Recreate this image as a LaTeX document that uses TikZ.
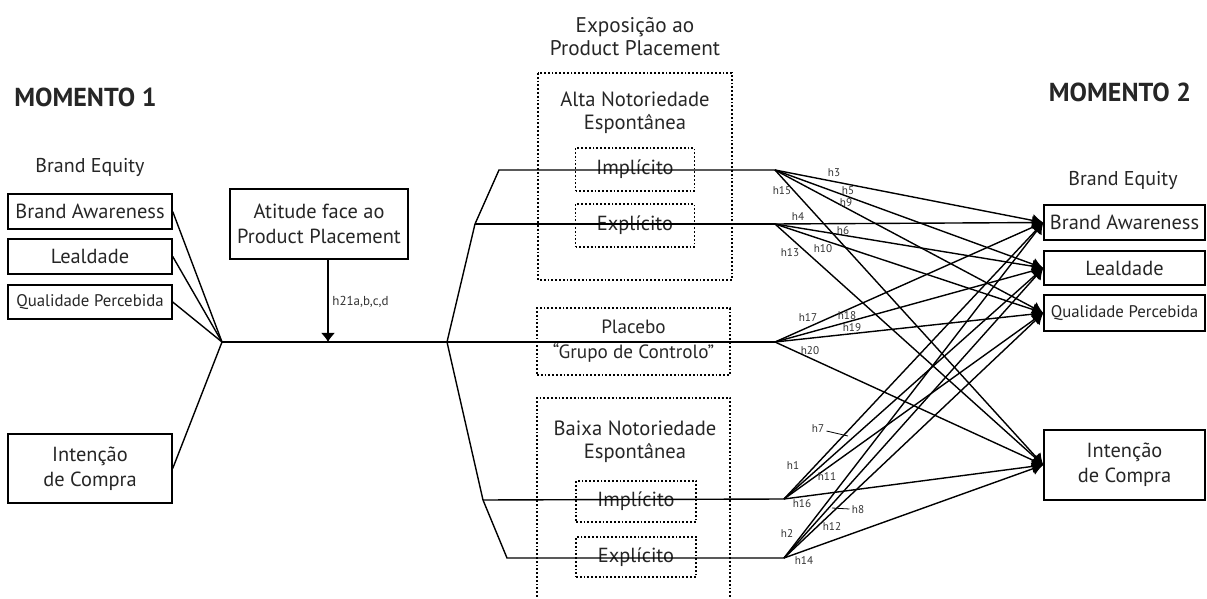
\documentclass[tikz,border=0pt]{standalone}
\usepackage{fontspec}
\setmainfont{PT Sans}
\usetikzlibrary{arrows.meta}
\tikzstyle{bx}=[draw=black,line width=0.7pt,text=black!85,align=center,inner sep=0pt,font=\fontsize{10.2}{12.5}\selectfont]
\tikzstyle{dbx}=[draw=black,densely dotted,line width=0.9pt,text=black!85,align=center,inner sep=0pt,font=\fontsize{10.2}{12.5}\selectfont]
\tikzstyle{tx}=[text=black!85,align=center,inner sep=0pt,font=\fontsize{10.3}{11.5}\selectfont]
\tikzstyle{hl}=[text=black!80,inner sep=0pt,font=\fontsize{5.6}{6}\selectfont]
\tikzstyle{ln}=[line width=0.7pt]
\tikzstyle{hyp}=[line width=0.7pt,-{Latex[length=5.5pt,width=6.5pt]}]

\begin{document}
\begin{tikzpicture}[x=0.5pt,y=-0.5pt]
\useasboundingbox (0,0) rectangle (1207,599);

\node[tx,anchor=west,font=\fontsize{13}{15}\bfseries] (m1) at (14,97) {MOMENTO 1};
\node[tx,font=\fontsize{13}{15}\bfseries] (m2) at (1120,92) {MOMENTO 2};
\node[tx,font=\fontsize{10}{11}\selectfont] (lbe) at (90,167) {Brand Equity};
\node[tx,font=\fontsize{10}{11}\selectfont] (rbe) at (1123,180) {Brand Equity};

\node[bx,minimum width=82pt,minimum height=17.5pt] (lba) at (90,211.5) {Brand Awareness};
\node[bx,minimum width=82pt,minimum height=17.5pt] (lle) at (90,256.5) {Lealdade};
\node[bx,minimum width=82pt,minimum height=17pt,font=\fontsize{8.4}{10}\selectfont] (lqp) at (90,302) {Qualidade Percebida};
\node[bx,minimum width=82pt,minimum height=34.5pt] (lic) at (90,468.5) {Intenção\\de Compra};

\node[bx,minimum width=80.5pt,minimum height=17.5pt] (rba) at (1124.5,222.5) {Brand Awareness};
\node[bx,minimum width=80.5pt,minimum height=17pt] (rle) at (1124.5,268) {Lealdade};
\node[bx,minimum width=80.5pt,minimum height=18pt,font=\fontsize{8.4}{10}\selectfont] (rqp) at (1124.5,313) {Qualidade Percebida};
\node[bx,minimum width=80.5pt,minimum height=35pt] (ric) at (1124.5,465) {Intenção\\de Compra};

\node[bx,minimum width=89pt,minimum height=35pt] (att) at (319,224) {Atitude face ao\\Product Placement};

\node[tx,font=\fontsize{10.6}{11.5}\selectfont] (expo) at (635,37) {Exposição ao\\Product Placement};
\draw[dbx] (538,73) rectangle (732,280);
\node[tx] (alta) at (635,113) {Alta Notoriedade\\Espontânea};
\node[dbx,minimum width=59.5pt,minimum height=21.5pt] (aimp) at (635,169.5) {Implícito};
\node[dbx,minimum width=59.5pt,minimum height=21.5pt] (aexp) at (635,225.5) {Explícito};
\node[dbx,minimum width=96.5pt,minimum height=33.5pt,font=\fontsize{9.6}{12.5}\selectfont] (plac) at (633.5,341.5) {Placebo\\“Grupo de Controlo”};
\draw[dbx] (537,612) |- (730,398) -- (730,612);
\node[tx] (baixa) at (635,442) {Baixa Notoriedade\\Espontânea};
\node[dbx,minimum width=60pt,minimum height=20.5pt] (bimp) at (636,501.5) {Implícito};
\node[dbx,minimum width=60pt,minimum height=20pt] (bexp) at (636,557) {Explícito};

\coordinate (j1) at (222,342);
\coordinate (j2) at (447,342);
\coordinate (ah) at (328,342);
\coordinate (a1s) at (499,170);
\coordinate (a2s) at (475,224);
\coordinate (a1e) at (775,170);
\coordinate (a2e) at (775,224);
\coordinate (pe) at (775,342);
\coordinate (b1s) at (483,500);
\coordinate (b2s) at (507,558);
\coordinate (b1e) at (784,499);
\coordinate (b2e) at (784,558);

\draw[ln] (lba.east) -- (j1);
\draw[ln] (lle.east) -- (j1);
\draw[ln] (lqp.east) -- (j1);
\draw[ln] (lic.east) -- (j1);
\draw[ln] (j1) -- (pe);
\draw[ln,-{Latex[length=4.5pt,width=7pt]}] (att.south -| ah) -- (ah);
\node[hl,anchor=west,font=\fontsize{6.5}{7}\selectfont] (h21) at (332,302) {h21a,b,c,d};

\draw[ln] (j2) -- (a2s) -- (a1s) -- (a1e);
\draw[ln] (a2s) -- (a2e);
\draw[ln] (j2) -- (b1s) -- (b2s) -- (b2e);
\draw[ln] (b1s) -- (b1e);

\draw[hyp] (a1e) -- (rba.west);
\draw[hyp] (a1e) -- (rle.west);
\draw[hyp] (a1e) -- (rqp.west);
\draw[hyp] (a1e) -- (ric.west);
\draw[hyp] (a2e) -- (rba.west);
\draw[hyp] (a2e) -- (rle.west);
\draw[hyp] (a2e) -- (rqp.west);
\draw[hyp] (a2e) -- (ric.west);
\draw[hyp] (pe) -- (rba.west);
\draw[hyp] (pe) -- (rle.west);
\draw[hyp] (pe) -- (rqp.west);
\draw[hyp] (pe) -- (ric.west);
\draw[hyp] (b1e) -- (rba.west);
\draw[hyp] (b1e) -- (rle.west);
\draw[hyp] (b1e) -- (rqp.west);
\draw[hyp] (b1e) -- (ric.west);
\draw[hyp] (b2e) -- (rba.west);
\draw[hyp] (b2e) -- (rle.west);
\draw[hyp] (b2e) -- (rqp.west);
\draw[hyp] (b2e) -- (ric.west);

\node[hl] (h3) at (834,173) {h3};
\node[hl] (h5) at (848,191) {h5};
\node[hl] (h9) at (846,203) {h9};
\node[hl] (h15) at (782,191) {h15};
\node[hl] (h4) at (798,217) {h4};
\node[hl] (h6) at (843,231) {h6};
\node[hl] (h10) at (823,249) {h10};
\node[hl] (h13) at (790,253) {h13};
\node[hl] (h17) at (808,318) {h17};
\node[hl] (h18) at (847,316) {h18};
\node[hl] (h19) at (852,328) {h19};
\node[hl] (h20) at (810,351) {h20};
\node[hl] (h7) at (818,429) {h7};
\node[hl] (h1) at (793,466) {h1};
\node[hl] (h11) at (827,477) {h11};
\node[hl] (h16) at (802,504) {h16};
\node[hl] (h8) at (858,510) {h8};
\node[hl] (h2) at (787,534) {h2};
\node[hl] (h12) at (832,527) {h12};
\node[hl] (h14) at (804,561) {h14};
\draw[line width=0.4pt] (h7.east) ++(2,2) -- (848,436);
\draw[line width=0.4pt] (h8.west) ++(-2,-1) -- (832,508);
\end{tikzpicture}
\end{document}
